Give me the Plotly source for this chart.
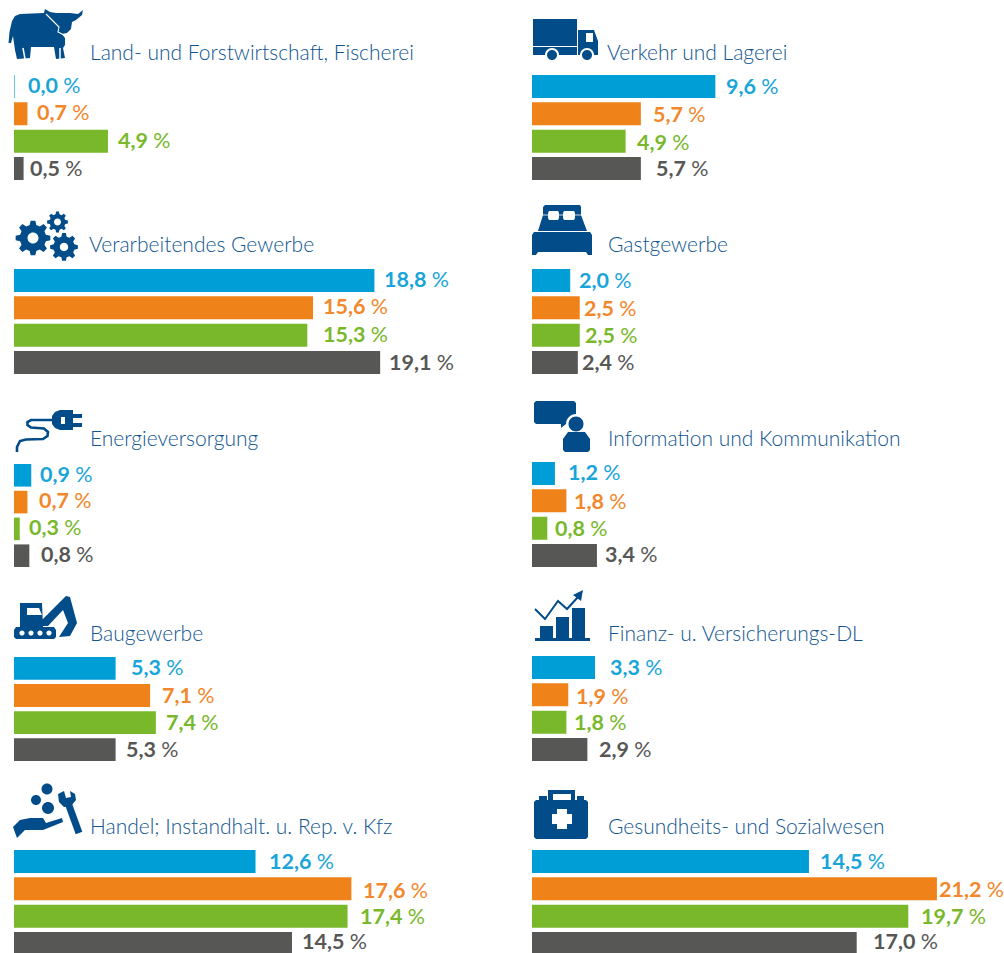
import math
import plotly.graph_objects as go

W_PX, H_PX = 1004, 953

categories = [
    "Land- und Forstwirtschaft, Fischerei", "Verkehr und Lagerei",
    "Verarbeitendes Gewerbe", "Gastgewerbe",
    "Energieversorgung", "Information und Kommunikation",
    "Baugewerbe", "Finanz- u. Versicherungs-DL",
    "Handel; Instandhalt. u. Rep. v. Kfz", "Gesundheits- und Sozialwesen",
]
series_blue = [0.0, 9.6, 18.8, 2.0, 0.9, 1.2, 5.3, 3.3, 12.6, 14.5]
series_orange = [0.7, 5.7, 15.6, 2.5, 0.7, 1.8, 7.1, 1.9, 17.6, 21.2]
series_green = [4.9, 4.9, 15.3, 2.5, 0.3, 0.8, 7.4, 1.8, 17.4, 19.7]
series_gray = [0.5, 5.7, 19.1, 2.4, 0.8, 3.4, 5.3, 2.9, 14.5, 17.0]
series_names = ["Reihe 1", "Reihe 2", "Reihe 3", "Reihe 4"]

# ---- styling and layout (pixels) ----
colors = ["#009ED6", "#F0821A", "#78B82A", "#575756"]
label_colors = ["#18A5DA", "#F2872B", "#78B82A", "#575756"]
navy = "#024C89"
title_color = "#0F5590"
col_x = [14, 532]
col_scale = [19.17, 19.1]
bar_span = [(75, 180), (75, 180), (269, 374), (269, 374), (464, 567),
            (462, 567), (657, 761), (656, 761), (850, 955), (850, 955)]
title_xy = [(90, 52), (607, 51), (89, 244), (608, 244), (90, 438),
            (608, 438), (90, 632), (608, 632), (90, 825), (608, 825)]
label_x = [[28, 37, 118, 30], [726, 653, 637, 656],
           [384, 323, 323, 389], [579, 584, 585, 582],
           [40, 39, 29, 41], [568, 574, 555, 605],
           [131, 162, 166, 126], [610, 576, 574, 599],
           [269, 363, 360, 302], [820, 939, 921, 873]]
label_y = [[85, 112, 140, 168], [86, 114, 142, 168],
           [279, 306, 334, 362], [280, 308, 335, 362],
           [474, 500, 527, 554], [472, 501, 528, 554],
           [667, 695, 722, 749], [667, 696, 722, 749],
           [861, 890, 916, 940.5], [861, 889, 916, 940.5]]
GAP = 0.157
LABEL_FONT = "Lato"
TITLE_FONT = "Lato"


def fmt(v):
    return f"{v:.1f}".replace(".", ",")


def px(x):
    return x / W_PX


def py(y):
    return 1 - y / H_PX


fig = go.Figure()
all_series = [series_blue, series_orange, series_green, series_gray]
layout_axes = {}
annotations = []
shapes = []

for i, name in enumerate(categories):
    n = i + 1
    xa, ya = f"x{n}" if n > 1 else "x", f"y{n}" if n > 1 else "y"
    xkey, ykey = f"xaxis{n}", f"yaxis{n}"
    col = i % 2
    x0 = col_x[col]
    scale = col_scale[col]
    width = 470
    top, bottom = bar_span[i]
    p = (bottom - top) / (4 - GAP)
    ptop = top - GAP * p / 2
    pbot = min(bottom + GAP * p / 2, H_PX)
    rng_end = -0.5 + (pbot - ptop) / p
    vals = [s[i] for s in all_series]
    fig.add_trace(go.Bar(
        x=vals, y=series_names, orientation="h", marker=dict(color=colors, line_width=0),
        xaxis=xa, yaxis=ya, showlegend=False, hoverinfo="skip", width=1 - GAP,
    ))
    layout_axes[xkey] = dict(domain=[px(x0), px(x0 + width)], range=[0, width / scale],
                             visible=False, anchor=ya, fixedrange=True)
    layout_axes[ykey] = dict(domain=[py(pbot), py(ptop)], range=[rng_end, -0.5], type="category",
                             categoryorder="array", categoryarray=series_names,
                             visible=False, anchor=xa, fixedrange=True)
    annotations.append(dict(text=name, xref="paper", yref="paper", x=px(title_xy[i][0]), y=py(title_xy[i][1]),
                            xanchor="left", yanchor="middle", showarrow=False, borderpad=0, borderwidth=0,
                            font=dict(family=TITLE_FONT, size=21, color=title_color, weight=300)))
    for k, v in enumerate(vals):
        centre = ptop + p * (k + 0.5)
        annotations.append(dict(
            text=f"<b>{fmt(v)}</b>\u2009\u2009%", xref=xa, yref=ya, x=v, y=series_names[k],
            xanchor="left", yanchor="middle", showarrow=False, borderpad=0, borderwidth=0,
            xshift=label_x[i][k] - (x0 + v * scale), yshift=centre - label_y[i][k],
            font=dict(family=LABEL_FONT, size=21.5, color=label_colors[k]),
        ))
        if v == 0:
            shapes.append(dict(type="line", xref=xa, yref=ya, x0=0, x1=0, y0=k - 0.42, y1=k + 0.42,
                               line=dict(color=colors[k], width=1.2)))


# ---- icon helpers (decoration only) ----
def pt(x, y):
    return f"{px(x):.5f},{py(y):.5f}"


def poly(points):
    return "M" + " L".join(pt(*q) for q in points) + " Z"


def circle(cx, cy, r):
    k = 0.5523 * r
    return (f"M{pt(cx + r, cy)} C{pt(cx + r, cy + k)} {pt(cx + k, cy + r)} {pt(cx, cy + r)} "
            f"C{pt(cx - k, cy + r)} {pt(cx - r, cy + k)} {pt(cx - r, cy)} "
            f"C{pt(cx - r, cy - k)} {pt(cx - k, cy - r)} {pt(cx, cy - r)} "
            f"C{pt(cx + k, cy - r)} {pt(cx + r, cy - k)} {pt(cx + r, cy)} Z")


def rect(a, b, c, d):
    return poly([(a, b), (c, b), (c, d), (a, d)])


def gear(cx, cy, R, hole, teeth=8):
    pts = []
    ri = R * 0.76
    for t in range(teeth):
        a = 2 * math.pi * t / teeth
        step = 2 * math.pi / teeth
        for off, rad in [(-0.32, ri), (-0.17, R), (0.17, R), (0.32, ri)]:
            b = a + off * step
            pts.append((cx + rad * math.cos(b), cy + rad * math.sin(b)))
    return poly(pts) + " " + circle(cx, cy, hole)


def fill(path, color=navy):
    shapes.append(dict(type="path", path=path, xref="paper", yref="paper",
                       fillcolor=color, line=dict(width=0), layer="above"))


def stroke(path, width, color=navy):
    shapes.append(dict(type="path", path=path, xref="paper", yref="paper",
                       line=dict(color=color, width=width), layer="above"))


def line(points):
    return "M" + " L".join(pt(*q) for q in points)


# cow
fill(poly([(8.5, 43), (9.5, 32), (12, 21), (15, 16), (20, 14), (44, 13), (45, 9), (50, 12), (56, 13),
           (70, 13), (78, 14), (83, 10), (82, 15), (76, 20), (72, 22), (71, 29), (67, 33), (62, 34),
           (65, 38), (65, 45), (63, 48), (65, 58), (56, 59), (54, 47), (31, 47), (30, 58), (17, 59),
           (15, 50), (13, 36), (11, 43)]))
stroke(line([(46, 14), (53, 21), (59, 27), (58, 32), (64, 35)]), 1.1, "white")
stroke(line([(23, 48), (25, 59)]), 1.5, "white")
stroke(line([(60, 48), (60, 59)]), 1.5, "white")
# truck
fill(rect(533, 19, 577, 46))
fill(rect(533, 47, 577, 55))
fill(poly([(578, 30), (594, 30), (598, 41), (598, 55), (578, 55)]))
fill(rect(586, 33, 593, 42), "white")
for cx in (552, 587):
    fill(circle(cx, 55, 7), "white")
    fill(circle(cx, 55, 5))
# gears
fill(gear(33, 238, 17.5, 5.5))
fill(gear(57.5, 222, 10.5, 3.5))
fill(gear(64, 247, 14, 4.2))
# plug
stroke(line([(17, 452), (17, 447), (20, 441), (26, 439.5), (43, 439), (47.5, 436), (48, 432), (44, 428.5),
             (31, 427.5), (27.5, 425), (27.5, 422), (31, 420), (54, 420)]), 2.6)
fill(poly([(73, 410), (60, 410), (55, 412), (52, 416), (52, 424), (55, 428), (60, 430), (73, 430)]))
fill(rect(73, 414, 82, 418))
fill(rect(73, 423, 82, 427))
fill(rect(61, 417, 65, 424), "white")
# bed
fill(poly([(545, 205), (580, 205), (581, 207), (581, 215), (587, 231), (538, 231), (543, 215), (543, 207)]))
fill(poly([(549, 211), (558, 211), (559, 213), (559, 218), (558, 220), (549, 220), (548, 218), (548, 213)]), "white")
fill(poly([(564, 211), (574, 211), (575, 213), (575, 218), (574, 220), (564, 220), (563, 218), (563, 213)]), "white")
stroke(line([(543, 215), (582, 215)]), 0.8, "white")
fill(poly([(534, 232), (590, 232), (592, 235), (592, 255), (588, 255), (586, 252), (538, 252), (536, 255),
           (532, 255), (532, 235)]))
# information
fill(poly([(536, 401), (574, 401), (576, 403), (576, 422), (566, 424), (561, 428), (561, 424), (536, 424),
           (534, 422), (534, 403)]))
fill(circle(576, 424, 10), "white")
fill(circle(576, 424, 7.5))
fill(poly([(568, 432), (585, 432), (590, 439), (590, 450), (588, 452), (565, 452), (563, 450), (563, 439)]))
# excavator
fill(poly([(16, 627), (54, 627), (56, 630), (56, 637), (54, 639), (16, 639), (14, 637), (14, 630)]))
for cx in (22, 31, 40, 49):
    fill(circle(cx, 633, 2.6), "white")
fill(poly([(20, 603), (42, 603), (43, 627), (20, 627)]))
fill(poly([(27, 608), (39, 608), (42, 615), (27, 615)]), "white")
fill(poly([(42, 620), (66, 596), (70, 597), (77, 623), (70, 636), (59, 637), (68, 623), (63, 610), (48, 626), (42, 626)]))
# hand and wrench
fill(circle(47, 789, 5.5))
fill(circle(36, 800, 5))
fill(circle(48, 808, 6))
stroke(line([(67, 800), (79, 833)]), 7)
fill(poly([(58, 794), (64, 791), (66, 798), (71, 797), (70, 791), (75, 794), (76, 800), (71, 806), (64, 807), (59, 802)]))
fill(poly([(13, 827), (20, 820), (30, 818), (43, 818), (46, 823), (62, 818), (63, 822), (43, 830), (25, 830), (17, 838)]))
# finance
fill(rect(535, 638, 590, 641))
fill(rect(540, 626, 553, 638))
fill(rect(556, 617, 569, 638))
fill(rect(572, 608, 585, 638))
stroke(line([(535, 609), (545, 619), (558, 601), (567, 609), (578, 597)]), 2)
fill(poly([(573, 595), (583, 590), (581, 601)]))
# first aid
fill(poly([(536, 800), (586, 800), (588, 802), (588, 837), (586, 839), (536, 839), (534, 837), (534, 802)]))
fill(rect(548, 790, 575, 800) + " " + rect(553, 794, 571, 800))
fill(rect(539, 796, 547, 800))
fill(rect(577, 796, 584, 800))
fill(poly([(557, 809), (567, 809), (567, 814), (572, 814), (572, 824), (567, 824), (567, 829), (557, 829),
           (557, 824), (552, 824), (552, 814), (557, 814)]), "white")

fig.update_layout(
    width=W_PX, height=H_PX, margin=dict(l=0, r=0, t=0, b=0, pad=0),
    paper_bgcolor="white", plot_bgcolor="white", barmode="overlay", showlegend=False,
    annotations=annotations, shapes=shapes, **layout_axes,
)
fig.write_html("out.html", config={"displayModeBar": False},
               post_script="document.body.style.margin='0';document.documentElement.style.overflow='hidden';")
